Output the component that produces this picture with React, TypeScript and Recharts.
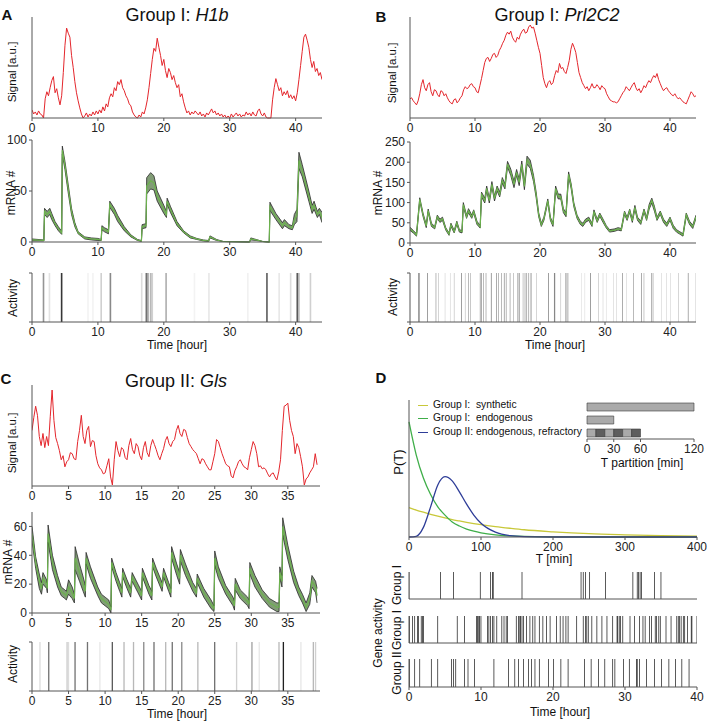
import React from 'react'
import {
  LineChart,
  ComposedChart,
  BarChart,
  Line,
  Area,
  Bar,
  Cell,
  XAxis,
  YAxis,
} from 'recharts'

// ---------- data ----------
const hourTicks44 = [0, 10, 20, 30, 40]
const hourTicks39 = [0, 5, 10, 15, 20, 25, 30, 35]
const sigStep = 0.25 // hours between signal samples

// A: H1b (one row per hour, 4 samples each)
const h1bSig = [
  8, 4, 6, 3, 7, 4, 3, 0, 19, 26, 22, 30, 37, 41, 25, 29, 20, 13, 22, 45,
  72, 89, 84, 80, 62, 50, 36, 25, 17, 10, 4, 0, 2, 5, 1, 4, 2, 6, 3, 7,
  4, 8, 5, 11, 7, 14, 11, 20, 24, 21, 30, 27, 36, 33, 38, 30, 27, 22, 19, 14,
  12, 6, 3, 1, 0, 3, 1, 6, 4, 10, 18, 30, 44, 58, 69, 66, 79, 70, 62, 52,
  58, 47, 40, 49, 45, 38, 42, 35, 30, 33, 21, 24, 16, 10, 5, 7, 3, 6, 4, 7,
  5, 3, 6, 2, 4, 1, 5, 3, 6, 9, 5, 7, 3, 5, 2, 4, 1, 3, 0, 2,
  0, 4, 1, 3, 5, 2, 4, 1, 3, 2, 6, 3, 5, 2, 6, 3, 2, 7, 9, 4,
  2, 5, 1, 0, 0, 0, 18, 30, 39, 33, 27, 30, 22, 26, 23, 27, 20, 23, 19, 22,
  17, 25, 38, 52, 66, 80, 83, 77, 70, 58, 50, 56, 46, 49, 42, 45, 38,
]

const h1bMrnaT = [0, 1.8, 1.9, 2.3, 2.7, 3, 3.5, 4, 4.5, 4.6, 5, 5.5, 6, 6.5, 7, 8, 9, 10, 10.5, 10.6, 11, 11.6, 11.8, 12.5, 13, 14, 15, 16, 16.6, 16.7, 17.3, 17.4, 18, 18.5, 19, 20, 20.4, 20.5, 21, 22, 23, 24, 25, 26, 26.8, 27, 28, 29, 33, 33.2, 34, 35, 36, 36.1, 37, 38, 38.3, 39, 39.5, 39.8, 40.2, 40.5, 41, 42, 42.5, 42.8, 43.3, 43.6, 44]
const h1bMrna = [2, 1.5, 30, 27, 30, 25, 18, 13, 9, 90, 75, 52, 30, 17, 9, 4, 3, 2.5, 2, 14, 12, 10, 37, 30, 23, 13, 6, 2, 1, 15, 16, 55, 60, 58, 45, 32, 27, 40, 32, 18, 10, 5, 3, 1.5, 1, 5, 2, 0.5, 0, 3, 2, 0.5, 0, 35, 25, 16, 19, 15, 14, 22, 26, 80, 70, 45, 32, 36, 27, 30, 24]
const h1bMrnaSd = [1, 0.5, 3, 3, 3, 3, 2, 2, 1.5, 4, 4, 4, 3, 2, 1, 1, 1, 1, 0.5, 2, 2, 2, 3, 3, 3, 2, 1, 0.5, 0.5, 2, 2, 8, 8, 7, 5, 4, 3, 3, 3, 2, 1, 1, 0.5, 0.5, 0.5, 1, 0.5, 0, 0, 1, 0.5, 0, 0, 4, 3, 3, 3, 2, 2, 5, 6, 8, 6, 5, 4, 4, 3, 3, 5]

const h1bAct = [[1.75, 0.45], [2.65, 0.12], [4.5, 0.85], [8.5, 0.05], [9.25, 0.05], [10.5, 0.2], [11.9, 0.5], [16.65, 0.15], [17.35, 0.6], [17.6, 0.4], [18.0, 0.3], [18.25, 0.2], [20.35, 0.35], [24.65, 0.05], [26.85, 0.1], [32.75, 0.06], [35.65, 0.7], [37.5, 0.1], [39.25, 0.15], [40.25, 0.7], [40.5, 0.3], [42.25, 0.2]]

// B: Prl2C2
const prlSig = [
  19, 20, 17, 15, 13, 17, 24, 33, 38, 30, 27, 33, 35, 26, 22, 28, 27, 23, 21, 27,
  26, 22, 24, 20, 17, 15, 14, 18, 19, 15, 17, 20, 22, 28, 31, 29, 30, 33, 34, 31,
  30, 26, 25, 32, 39, 47, 55, 59, 60, 56, 59, 63, 64, 60, 62, 67, 70, 74, 77, 82,
  85, 83, 86, 80, 77, 75, 80, 78, 83, 86, 88, 84, 85, 90, 92, 89, 90, 84, 77, 70,
  64, 52, 40, 34, 30, 35, 37, 33, 35, 42, 47, 45, 54, 49, 50, 46, 44, 50, 57, 68,
  74, 70, 65, 55, 45, 40, 35, 32, 29, 31, 27, 30, 34, 30, 30, 33, 31, 28, 32, 30,
  29, 24, 21, 18, 17, 16, 16, 15, 16, 19, 22, 25, 27, 31, 29, 27, 30, 33, 35, 30,
  27, 29, 25, 28, 32, 30, 34, 37, 35, 39, 42, 40, 44, 38, 34, 30, 27, 29, 30, 27,
  25, 23, 22, 24, 21, 19, 20, 18, 16, 15, 14, 18, 22, 26, 24, 21, 22,
]

const prlMrnaT = [0, 0.5, 1, 1.5, 2, 2.5, 2.8, 3.3, 3.8, 4.2, 4.6, 5, 5.5, 6, 6.3, 6.8, 7.2, 7.6, 8, 8.2, 8.7, 9, 9.5, 9.8, 10.3, 10.8, 11, 11.5, 11.8, 12.2, 12.6, 13, 13.4, 13.8, 14.2, 14.6, 15, 15.5, 16, 16.4, 16.8, 17.2, 17.6, 18, 18.5, 19, 19.4, 19.8, 20.2, 20.6, 21.2, 21.6, 22, 22.4, 22.8, 23.2, 23.6, 24, 24.4, 24.8, 25.2, 25.7, 26.2, 26.6, 27, 27.5, 28, 28.3, 28.8, 29.2, 29.7, 30.2, 30.7, 31.5, 32, 32.5, 33, 33.4, 33.8, 34.2, 34.6, 35, 35.5, 36, 36.4, 36.8, 37.2, 37.6, 38, 38.5, 39, 39.5, 40, 40.5, 41, 41.5, 42, 42.5, 43, 43.5, 44]
const prlMrna = [35, 28, 20, 108, 70, 42, 80, 45, 38, 65, 55, 60, 35, 22, 45, 28, 50, 30, 28, 95, 65, 80, 65, 78, 50, 40, 120, 105, 135, 105, 145, 110, 135, 120, 155, 140, 195, 175, 145, 175, 150, 195, 140, 205, 195, 160, 120, 70, 45, 60, 105, 60, 45, 135, 115, 115, 80, 70, 170, 140, 95, 65, 50, 45, 55, 60, 45, 78, 55, 70, 55, 40, 30, 32, 35, 33, 75, 60, 80, 55, 88, 60, 50, 80, 60, 90, 105, 85, 60, 75, 55, 45, 60, 40, 30, 25, 20, 70, 50, 40, 65]
const prlMrnaSd = [4, 3, 3, 4, 4, 4, 4, 4, 3, 4, 4, 4, 3, 3, 4, 3, 4, 3, 3, 5, 4, 5, 4, 4, 4, 3, 6, 6, 6, 6, 7, 6, 6, 6, 7, 6, 7, 8, 8, 7, 8, 8, 8, 10, 10, 8, 7, 5, 4, 4, 4, 4, 4, 6, 6, 6, 5, 5, 6, 6, 5, 4, 4, 4, 4, 4, 4, 4, 4, 4, 4, 3, 3, 3, 3, 3, 4, 4, 4, 4, 5, 4, 4, 4, 4, 6, 6, 6, 4, 4, 4, 4, 4, 4, 3, 3, 3, 4, 4, 4, 4]

const prlAct = [[1.3, 0.7], [1.5, 0.6], [2.7, 0.7], [4.0, 0.5], [4.4, 0.3], [5.4, 0.2], [6.2, 0.2], [6.8, 0.3], [7.9, 0.7], [8.5, 0.3], [9.0, 0.5], [9.3, 0.4], [10.8, 0.6], [11.0, 0.6], [11.3, 0.5], [11.7, 0.5], [12.5, 0.7], [13.3, 0.6], [13.6, 0.5], [14.1, 0.5], [14.5, 0.6], [14.8, 0.5], [15.4, 0.5], [15.9, 0.4], [16.6, 0.6], [16.8, 0.7], [17.4, 0.4], [17.7, 0.5], [17.9, 0.5], [18.2, 0.5], [18.5, 0.4], [18.7, 0.4], [19.5, 0.3], [21.3, 0.7], [22.2, 0.7], [22.3, 0.5], [23.2, 0.3], [24.0, 0.8], [24.3, 0.6], [26.4, 0.15], [26.9, 0.15], [27.8, 0.7], [29.0, 0.3], [29.7, 0.2], [30.2, 0.15], [31.3, 0.2], [31.8, 0.2], [32.7, 0.6], [33.3, 0.2], [34.4, 0.5], [35.6, 0.6], [36.0, 0.4], [37.2, 0.6], [37.4, 0.4], [38.7, 0.2], [39.5, 0.2], [40.1, 0.2], [41.3, 0.3], [42.8, 0.6], [43.9, 0.2]]

// C: Gls
const glsSig = [
  55, 68, 79, 70, 49, 40, 52, 38, 49, 40, 69, 95, 65, 48, 42, 35, 26, 30, 19, 24,
  26, 33, 32, 27, 26, 44, 55, 70, 49, 42, 55, 59, 39, 45, 44, 30, 22, 18, 16, 12,
  13, 20, 27, 9, 1, 26, 44, 35, 29, 38, 36, 28, 26, 40, 47, 36, 32, 42, 39, 30,
  26, 38, 44, 33, 29, 40, 46, 41, 36, 30, 26, 32, 37, 45, 49, 42, 39, 44, 46, 55,
  60, 52, 49, 56, 55, 48, 42, 39, 36, 34, 32, 27, 22, 27, 26, 22, 19, 16, 16, 24,
  32, 46, 44, 38, 32, 27, 22, 20, 19, 10, 8, 15, 19, 24, 26, 22, 19, 18, 16, 28,
  36, 44, 40, 32, 19, 20, 17, 18, 16, 12, 9, 12, 13, 9, 6, 14, 26, 55, 79, 80,
  82, 65, 55, 49, 32, 42, 38, 29, 19, 1, 7, 9, 13, 16, 19, 32, 21,
]

const glsMrnaT = [0, 0.5, 1, 1.3, 1.5, 2, 2.1, 2.2, 2.8, 3.5, 4, 4.5, 4.7, 5, 5.5, 5.8, 5.9, 6.5, 7, 7.3, 7.4, 8, 9, 9.5, 10, 10.5, 10.8, 10.9, 11.5, 12, 12.3, 12.4, 13, 13.5, 13.7, 14.5, 15, 15.1, 16, 16.4, 16.5, 17, 17.8, 18, 18.7, 19, 19.1, 19.8, 20.2, 20.3, 21, 22, 22.5, 22.6, 23.5, 24.5, 24.9, 25, 25.5, 26.5, 27.5, 27.7, 27.8, 28.5, 29.5, 29.7, 29.8, 30.5, 31.5, 32.5, 33.5, 33.8, 33.9, 34.2, 34.3, 35, 35.8, 36.5, 37, 37.5, 38, 38.3, 38.8, 39]
const glsMrna = [55, 35, 22, 17, 24, 20, 17, 55, 35, 22, 15, 13, 12, 18, 14, 10, 38, 28, 20, 15, 38, 28, 15, 10, 8, 6, 2, 35, 25, 18, 14, 28, 20, 14, 25, 17, 12, 28, 16, 12, 35, 28, 18, 28, 18, 14, 42, 30, 24, 40, 30, 18, 14, 24, 14, 6, 3, 38, 28, 16, 8, 5, 20, 13, 8, 6, 31, 22, 13, 7, 4, 4, 28, 22, 60, 42, 25, 15, 10, 4, 10, 22, 18, 12]
const glsMrnaSd = [5, 4, 5, 4, 4, 3, 3, 6, 5, 4, 3, 3, 3, 5, 4, 3, 8, 6, 5, 4, 4, 4, 3, 3, 3, 3, 2, 3, 3, 3, 3, 3, 3, 3, 3, 3, 3, 3, 3, 3, 3, 3, 3, 3, 3, 3, 4, 4, 4, 4, 4, 3, 3, 3, 3, 3, 2, 5, 4, 3, 3, 3, 4, 3, 3, 3, 4, 4, 3, 3, 3, 3, 4, 4, 6, 5, 4, 3, 3, 3, 4, 4, 4, 5]

const glsAct = [[1.1, 0.15], [2.3, 0.6], [4.8, 0.2], [5.0, 0.15], [5.9, 0.6], [7.6, 0.6], [9.3, 0.1], [11.0, 0.7], [12.6, 0.3], [13.9, 0.3], [15.3, 0.5], [16.7, 0.6], [18.3, 0.3], [19.2, 0.6], [20.5, 0.5], [22.7, 0.3], [25.0, 0.6], [28.0, 0.2], [30.1, 0.4], [31.1, 0.1], [33.8, 0.3], [34.4, 0.95], [36.8, 0.1], [38.5, 0.3], [38.8, 0.2]]

// D: waiting-time distributions
const waitT = [0, 10, 20, 30, 40, 50, 60, 70, 80, 90, 100, 120, 140, 160, 200, 250, 300, 350, 400]
const waitSynthetic = [0.215, 0.197, 0.181, 0.166, 0.152, 0.139, 0.127, 0.117, 0.107, 0.098, 0.09, 0.076, 0.064, 0.053, 0.038, 0.024, 0.016, 0.01, 0.007]
const waitEndogenous = [0.84, 0.6, 0.43, 0.31, 0.22, 0.16, 0.11, 0.08, 0.058, 0.042, 0.03, 0.015, 0.008, 0.004, 0.001, 0, 0, 0, 0]
const waitRefractory = [0, 0.005, 0.07, 0.22, 0.38, 0.44, 0.41, 0.33, 0.24, 0.16, 0.1, 0.035, 0.01, 0.003, 0, 0, 0, 0, 0]

const partitionRows = ['synthetic', 'endogenous', 'refractory']
const partitionSegs = [[120], [30], [10, 10, 10, 10, 10, 10]]

const geneGroupI = [0, 4.4, 6.2, 9.9, 11.3, 11.6, 11.7, 15.7, 23.9, 24.2, 24.5, 25.1, 27.3, 31.1, 31.7, 31.9, 32.1, 32.3, 34.1, 35.0]
const geneGroupIEndo = [0.1, 0.5, 0.8, 1.2, 1.3, 1.7, 1.9, 2.0, 4.0, 6.7, 7.7, 9.4, 9.5, 9.7, 9.8, 10.0, 10.9, 11.1, 11.3, 11.6, 11.8, 12.2, 12.9, 13.2, 13.5, 13.7, 14.9, 15.2, 15.4, 15.5, 15.7, 15.9, 16.3, 16.8, 17.2, 17.5, 18.1, 18.6, 19.1, 19.6, 20.5, 21.0, 21.4, 21.8, 22.1, 23.3, 24.2, 24.5, 24.7, 24.9, 25.4, 26.1, 26.8, 27.5, 28.3, 28.9, 29.0, 29.2, 29.4, 29.7, 30.7, 31.3, 32.0, 32.5, 32.8, 33.4, 33.7, 34.2, 34.4, 34.7, 34.9, 35.7, 36.4, 37.2, 37.4, 37.6, 37.8, 38.1, 38.3, 38.7, 39.2, 39.3, 40.0]
const geneGroupII = [0.1, 0.8, 1.5, 3.1, 4.0, 5.9, 6.2, 6.5, 7.7, 8.2, 9.1, 11.8, 13.8, 14.7, 15.2, 15.9, 16.6, 17.0, 17.5, 18.1, 19.4, 20.1, 21.1, 22.1, 24.4, 25.3, 26.3, 27.2, 28.3, 28.6, 29.8, 30.6, 31.6, 31.7, 32.0, 33.0, 34.1, 35.1, 36.1, 37.0, 37.9, 38.9]

// ---------- styles ----------
const FONT = '"Liberation Sans", Arial, Helvetica, sans-serif'
const AX = '#555'
const RED = '#e4262c'
const GREEN = '#6cb24e'
const BAND = '#819c76'
const M = { top: 10, right: 12, bottom: 0, left: 0 }
const TICK = { fill: '#222', fontSize: 12 }

type Rect = { x: number; y: number; w: number; h: number }

const place = (r: Rect): React.CSSProperties => ({ position: 'absolute', left: r.x - 40, top: r.y - 10 })
const cw = (r: Rect) => r.w + 52
const ch = (r: Rect) => r.h + 35

function HourAxis({ max, ticks, show = true }: { max: number; ticks: number[]; show?: boolean }) {
  return (
    <XAxis
      type="number"
      dataKey="t"
      domain={[0, max]}
      ticks={ticks}
      interval={0}
      allowDataOverflow
      height={25}
      axisLine={{ stroke: AX }}
      tickLine={show ? { stroke: AX } : false}
      tickSize={3}
      tick={show ? TICK : false}
    />
  )
}

function SignalChart({ r, v, max, ticks }: { r: Rect; v: number[]; max: number; ticks: number[] }) {
  const data = v.map((val, i) => ({ t: i * sigStep, v: val }))
  return (
    <div style={place(r)}>
      <LineChart width={cw(r)} height={ch(r)} data={data} margin={M}>
        {HourAxis({ max, ticks })}
        <YAxis type="number" domain={[0, 100]} width={40} axisLine={{ stroke: AX }} tick={false} tickLine={false} />
        <Line type="linear" dataKey="v" stroke={RED} strokeWidth={1} dot={false} isAnimationActive={false} />
      </LineChart>
    </div>
  )
}

function MrnaChart(props: { r: Rect; t: number[]; mid: number[]; sd: number[]; max: number; ticks: number[]; yMax: number; yTicks: number[] }) {
  const { r, t, mid, sd, max, ticks, yMax, yTicks } = props
  const data = t.map((tt, i) => ({ t: tt, mid: mid[i], band: [Math.max(0, mid[i] - sd[i]), mid[i] + sd[i]] }))
  return (
    <div style={place(r)}>
      <ComposedChart width={cw(r)} height={ch(r)} data={data} margin={M}>
        {HourAxis({ max, ticks })}
        <YAxis
          type="number"
          domain={[0, yMax]}
          ticks={yTicks}
          interval={0}
          width={40}
          axisLine={{ stroke: AX }}
          tickLine={{ stroke: AX }}
          tickSize={3}
          tick={TICK}
        />
        <Area type="linear" dataKey="band" fill={BAND} fillOpacity={1} stroke="#2a2a2a" strokeWidth={0.8} isAnimationActive={false} />
        <Line type="linear" dataKey="mid" stroke={GREEN} strokeWidth={1.2} dot={false} isAnimationActive={false} />
      </ComposedChart>
    </div>
  )
}

// event barcode: every event is a full-height thin bar at its time
function Barcode({ r, ev, max, ticks, showTicks, yTicks, width, color }: { r: Rect; ev: { t: number; a: number }[]; max: number; ticks: number[]; showTicks: boolean; yTicks: boolean; width: number; color: (a: number) => string }) {
  return (
    <div style={place(r)}>
      <ComposedChart width={cw(r)} height={ch(r)} data={ev} margin={M}>
        {HourAxis({ max, ticks, show: showTicks })}
        <YAxis
          type="number"
          domain={[0, 1]}
          ticks={[0, 1]}
          width={40}
          axisLine={{ stroke: AX }}
          tickLine={yTicks ? { stroke: AX } : false}
          tickSize={3}
          tickFormatter={() => ''}
        />
        <Bar dataKey={() => 1} barSize={width} isAnimationActive={false}>
          {ev.map((e, i) => (
            <Cell key={i} fill={color(e.a)} />
          ))}
        </Bar>
      </ComposedChart>
    </div>
  )
}

function Txt({ x, y, children, size = 12, rot = false, bold = false }: { x: number; y: number; children: React.ReactNode; size?: number; rot?: boolean; bold?: boolean }) {
  return (
    <div
      style={{
        position: 'absolute',
        left: x,
        top: y,
        transform: `translate(-50%, -50%)${rot ? ' rotate(-90deg)' : ''}`,
        fontSize: size,
        fontWeight: bold ? 'bold' : 'normal',
        whiteSpace: 'nowrap',
        lineHeight: 1,
        color: '#111',
      }}
    >
      {children}
    </div>
  )
}

const LEGEND = [
  { label: 'Group I:  synthetic', color: '#c8c83a', y: 405 },
  { label: 'Group I:  endogenous', color: '#3fae49', y: 418 },
  { label: 'Group II: endogenous, refractory', color: '#2e3d98', y: 432 },
]

const grey = (a: number) => `rgba(20,20,20,${a})`
const black = () => '#000'
const toEv = (list: number[][]) => list.map((e) => ({ t: e[0], a: e[1] }))
const toGene = (list: number[]) => list.map((t) => ({ t, a: 1 }))

export default function App() {
  const waitData = waitT.map((T, i) => ({ T, y: waitSynthetic[i], g: waitEndogenous[i], b: waitRefractory[i] }))
  const partData = partitionRows.map((name, i) => {
    const row: Record<string, number | string> = { name }
    partitionSegs[i].forEach((s, j) => (row['s' + j] = s))
    return row
  })
  const segKeys = ['s0', 's1', 's2', 's3', 's4', 's5']

  return (
    <div style={{ position: 'absolute', left: 0, top: 0, width: 707, height: 721, overflow: 'hidden', background: '#fff', fontFamily: FONT }}>
      {/* panel A */}
      <Txt x={7} y={14} size={15} bold>A</Txt>
      <Txt x={177} y={15} size={18}>Group I: <i>H1b</i></Txt>
      <SignalChart r={{ x: 32, y: 17, w: 290, h: 101 }} v={h1bSig} max={44} ticks={hourTicks44} />
      <MrnaChart r={{ x: 32, y: 140, w: 290, h: 102 }} t={h1bMrnaT} mid={h1bMrna} sd={h1bMrnaSd} max={44} ticks={hourTicks44} yMax={100} yTicks={[0, 50, 100]} />
      <Barcode r={{ x: 32, y: 273, w: 290, h: 49 }} ev={toEv(h1bAct)} max={44} ticks={hourTicks44} showTicks yTicks width={1.6} color={grey} />
      <Txt x={13} y={72} size={11.5} rot>Signal [a.u.]</Txt>
      <Txt x={11} y={193} rot>mRNA #</Txt>
      <Txt x={13} y={298} rot>Activity</Txt>
      <Txt x={177} y={345}>Time [hour]</Txt>

      {/* panel B */}
      <Txt x={381} y={16} size={15} bold>B</Txt>
      <Txt x={557} y={15} size={18}>Group I: <i>Prl2C2</i></Txt>
      <SignalChart r={{ x: 410, y: 17, w: 286, h: 101 }} v={prlSig} max={44} ticks={hourTicks44} />
      <MrnaChart r={{ x: 410, y: 142, w: 286, h: 101 }} t={prlMrnaT} mid={prlMrna} sd={prlMrnaSd} max={44} ticks={hourTicks44} yMax={250} yTicks={[0, 50, 100, 150, 200, 250]} />
      <Barcode r={{ x: 410, y: 273, w: 286, h: 49 }} ev={toEv(prlAct)} max={44} ticks={hourTicks44} showTicks yTicks width={1.6} color={grey} />
      <Txt x={393} y={73} size={11.5} rot>Signal [a.u.]</Txt>
      <Txt x={378} y={193} rot>mRNA #</Txt>
      <Txt x={393} y={297} rot>Activity</Txt>
      <Txt x={555} y={345}>Time [hour]</Txt>

      {/* panel C */}
      <Txt x={6} y={378} size={15} bold>C</Txt>
      <Txt x={176} y={381} size={18}>Group II: <i>Gls</i></Txt>
      <SignalChart r={{ x: 32, y: 385, w: 288, h: 101 }} v={glsSig} max={39.4} ticks={hourTicks39} />
      <MrnaChart r={{ x: 32, y: 512, w: 288, h: 101 }} t={glsMrnaT} mid={glsMrna} sd={glsMrnaSd} max={39.4} ticks={hourTicks39} yMax={70} yTicks={[0, 20, 40, 60]} />
      <Barcode r={{ x: 32, y: 642, w: 288, h: 49 }} ev={toEv(glsAct)} max={39.4} ticks={hourTicks39} showTicks yTicks width={1.6} color={grey} />
      <Txt x={13} y={443} size={11.5} rot>Signal [a.u.]</Txt>
      <Txt x={8} y={562} rot>mRNA #</Txt>
      <Txt x={13} y={664} rot>Activity</Txt>
      <Txt x={177} y={714}>Time [hour]</Txt>

      {/* panel D */}
      <Txt x={381} y={377} size={15} bold>D</Txt>
      <div style={place({ x: 409, y: 400, w: 288, h: 137 })}>
        <LineChart width={288 + 52} height={137 + 35} data={waitData} margin={M}>
          <XAxis
            type="number"
            dataKey="T"
            domain={[0, 400]}
            ticks={[0, 100, 200, 300, 400]}
            interval={0}
            height={25}
            axisLine={{ stroke: AX }}
            tickLine={{ stroke: AX }}
            tickSize={3}
            tick={TICK}
          />
          <YAxis type="number" domain={[0, 1]} width={40} axisLine={{ stroke: AX }} tick={false} tickLine={false} />
          <Line type="monotone" dataKey="y" stroke="#c8c83a" strokeWidth={1.3} dot={false} isAnimationActive={false} />
          <Line type="monotone" dataKey="g" stroke="#3fae49" strokeWidth={1.3} dot={false} isAnimationActive={false} />
          <Line type="monotone" dataKey="b" stroke="#2e3d98" strokeWidth={1.3} dot={false} isAnimationActive={false} />
        </LineChart>
      </div>
      <Txt x={398} y={462} size={13} rot>P(T)</Txt>
      <Txt x={554} y={559}>T [min]</Txt>
      {LEGEND.map((l) => (
        <div key={l.label}>
          <div style={{ position: 'absolute', left: 418, top: l.y, width: 10, height: 1.3, background: l.color }} />
          <div style={{ position: 'absolute', left: 433, top: l.y - 7, fontSize: 10.3, lineHeight: '14px', whiteSpace: 'pre', color: '#111' }}>{l.label}</div>
        </div>
      ))}

      {/* inset: T partition */}
      <div style={{ position: 'absolute', left: 579, top: 400 }}>
        <BarChart width={107 + 20} height={39 + 25} data={partData} layout="vertical" margin={{ top: 0, right: 12, bottom: 0, left: 8 }} barCategoryGap={0}>
          <XAxis
            type="number"
            domain={[0, 120]}
            ticks={[0, 30, 60, 120]}
            interval={0}
            height={25}
            axisLine={{ stroke: AX }}
            tickLine={{ stroke: AX }}
            tickSize={3}
            tick={TICK}
          />
          <YAxis type="category" dataKey="name" hide />
          {segKeys.map((k, j) => (
            <Bar key={k} dataKey={k} stackId="p" barSize={8} fill={j % 2 === 0 ? '#aaaaaa' : '#5e5e5e'} stroke="#3a3a3a" strokeWidth={0.6} isAnimationActive={false} />
          ))}
        </BarChart>
      </div>
      <Txt x={642} y={463}>T partition [min]</Txt>

      {/* gene activity */}
      <Barcode r={{ x: 409, y: 572, w: 288, h: 27 }} ev={toGene(geneGroupI)} max={40} ticks={hourTicks44} showTicks={false} yTicks={false} width={1.5} color={black} />
      <Barcode r={{ x: 409, y: 616, w: 288, h: 27 }} ev={toGene(geneGroupIEndo)} max={40} ticks={hourTicks44} showTicks={false} yTicks={false} width={1.5} color={black} />
      <Barcode r={{ x: 409, y: 659, w: 288, h: 28 }} ev={toGene(geneGroupII)} max={40} ticks={hourTicks44} showTicks yTicks={false} width={1.5} color={black} />
      <Txt x={397} y={585} rot>Group I</Txt>
      <Txt x={397} y={630} rot>Group I</Txt>
      <Txt x={397} y={673} rot>Group II</Txt>
      <Txt x={378} y={633} rot>Gene activity</Txt>
      <Txt x={560} y={712}>Time [hour]</Txt>
    </div>
  )
}
